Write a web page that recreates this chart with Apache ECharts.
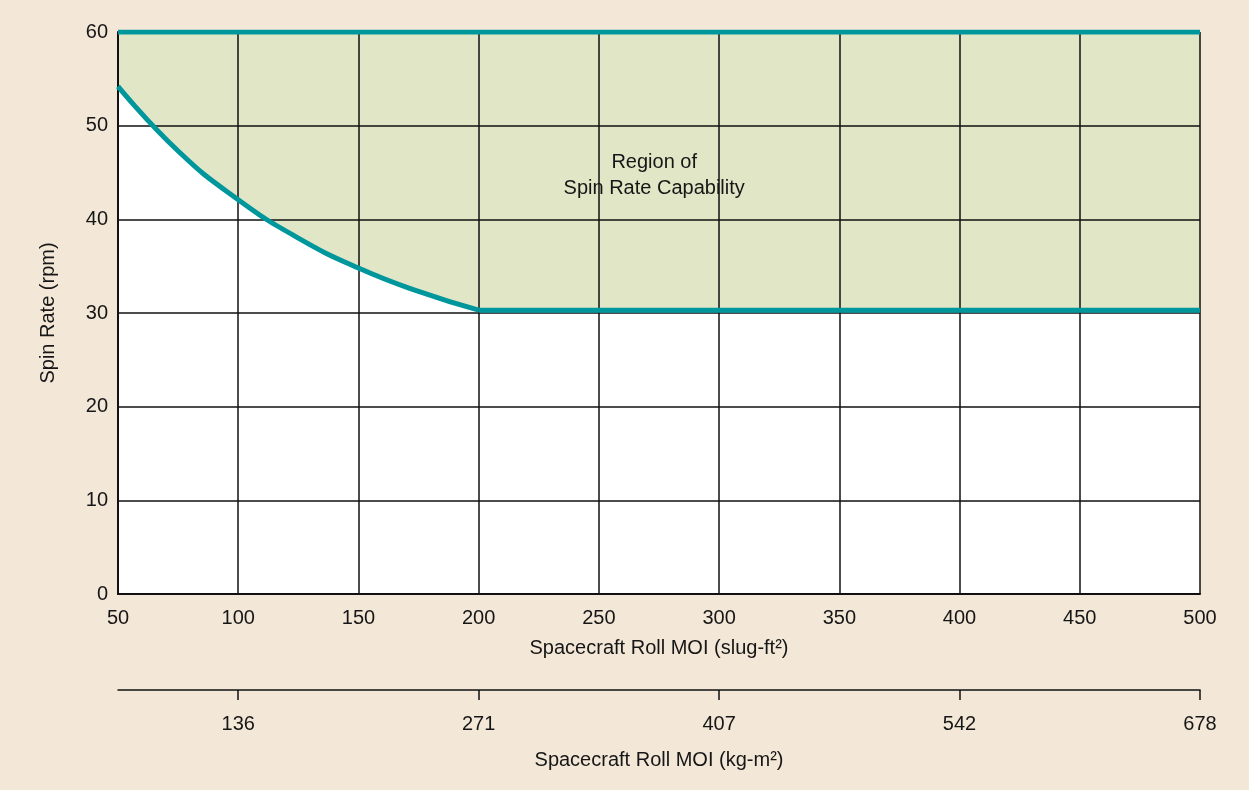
<!DOCTYPE html>
<html>
<head>
<meta charset="utf-8">
<script src="https://cdn.jsdelivr.net/npm/echarts@6/dist/echarts.min.js"></script>
<style>
html,body{margin:0;padding:0;background:#f3e8d8;}
#main{width:1249px;height:790px;}
</style>
</head>
<body>
<div id="main"></div>
<script>
// Lower boundary of the capability region: roll MOI (slug-ft^2) vs spin rate (rpm)
var curveMoi  = [50, 75, 100, 125, 150, 175, 200];
var curveSpin = [54.2, 47.3, 42.1, 38.0, 34.8, 32.3, 30.3];
var flatMoi  = [200, 500];
var flatSpin = [30.3, 30.3];
var spinMax = 60;
var xMin = 50, xMax = 500;
var yTicks = [0, 10, 20, 30, 40, 50, 60];
var kgTickPositions = [100, 200, 300, 400, 500];
var kgTickLabels = ['136', '271', '407', '542', '678'];
var regionLabel = ['Region of', 'Spin Rate Capability'];
var regionLabelPos = [273, 44.7];

var curveData = curveMoi.map(function (x, i) { return [x, curveSpin[i]]; });
var flatData = flatMoi.map(function (x, i) { return [x, flatSpin[i]]; });
var topData = [[xMin, spinMax], [xMax, spinMax]];

var FONT = '"Liberation Sans", Arial, Helvetica, sans-serif';
var TEXT = '#161616';
var FS = 20;
var TEAL = '#00979c';
var FILL = '#e0e6c6';

var chart = echarts.init(document.getElementById('main'));
chart.setOption({
  backgroundColor: '#f3e8d8',
  animation: false,
  textStyle: { fontFamily: FONT },
  grid: { left: 118, right: 49, top: 32, bottom: 196, backgroundColor: '#ffffff', show: true, borderWidth: 0 },
  xAxis: [{
    type: 'value', min: xMin, max: xMax, interval: 50, z: 2,
    name: 'Spacecraft Roll MOI (slug-ft²)', nameLocation: 'middle', nameGap: 44,
    nameTextStyle: { fontSize: FS, color: TEXT, fontFamily: FONT },
    axisLine: { show: true, onZero: false, lineStyle: { color: '#111', width: 2 } },
    axisTick: { show: false },
    axisLabel: { fontSize: FS, color: TEXT, margin: 14, fontFamily: FONT },
    splitLine: { show: true, lineStyle: { color: '#111', width: 1.5 } }
  }, {
    type: 'value', min: xMin, max: xMax, position: 'bottom', offset: 96, z: 2,
    name: 'Spacecraft Roll MOI (kg-m²)', nameLocation: 'middle', nameGap: 60,
    nameTextStyle: { fontSize: FS, color: TEXT, fontFamily: FONT },
    axisLine: { show: true, onZero: false, lineStyle: { color: '#111', width: 1.5 } },
    axisTick: { show: true, inside: false, length: 10, customValues: kgTickPositions, lineStyle: { color: '#111', width: 1.5 } },
    axisLabel: {
      fontSize: FS, color: TEXT, margin: 24, fontFamily: FONT,
      customValues: kgTickPositions,
      formatter: function (v) { var i = kgTickPositions.indexOf(v); return i >= 0 ? kgTickLabels[i] : ''; }
    },
    splitLine: { show: false }
  }],
  yAxis: {
    type: 'value', min: 0, max: 60, interval: 10, z: 2,
    name: 'Spin Rate (rpm)', nameLocation: 'middle', nameGap: 60, nameRotate: 90,
    nameTextStyle: { fontSize: FS, color: TEXT, fontFamily: FONT },
    axisLine: { show: true, lineStyle: { color: '#111', width: 2 } },
    axisTick: { show: false },
    axisLabel: { fontSize: FS, color: TEXT, margin: 10, fontFamily: FONT,
      formatter: function (v) { return yTicks.indexOf(v) >= 0 ? String(v) : ''; } },
    splitLine: { show: true, lineStyle: { color: '#111', width: 1.5 } }
  },
  series: [{
    name: 'fillCurve', type: 'line', z: 1, data: curveData, smooth: 0.5,
    showSymbol: false, symbol: 'none', lineStyle: { width: 0, opacity: 0 },
    areaStyle: { color: FILL, opacity: 1, origin: 'end' }
  }, {
    name: 'fillFlat', type: 'line', z: 1, data: flatData,
    showSymbol: false, symbol: 'none', lineStyle: { width: 0, opacity: 0 },
    areaStyle: { color: FILL, opacity: 1, origin: 'end' }
  }, {
    name: 'boundary', type: 'line', z: 5, data: curveData, smooth: 0.5,
    showSymbol: false, symbol: 'none', lineStyle: { color: TEAL, width: 5 }
  }, {
    name: 'flat', type: 'line', z: 5, data: flatData,
    showSymbol: false, symbol: 'none', lineStyle: { color: TEAL, width: 5 }
  }, {
    name: 'top', type: 'line', z: 5, data: topData,
    showSymbol: false, symbol: 'none', lineStyle: { color: TEAL, width: 5 }
  }, {
    name: 'label', type: 'scatter', z: 6, data: [regionLabelPos], symbolSize: 0,
    itemStyle: { opacity: 1 },
    label: {
      show: true, position: 'inside', formatter: regionLabel.join('\n'),
      fontSize: FS, lineHeight: 26, color: TEXT, opacity: 1, fontFamily: FONT, align: 'center'
    },
    emphasis: { disabled: true },
    silent: true
  }]
});
</script>
</body>
</html>
